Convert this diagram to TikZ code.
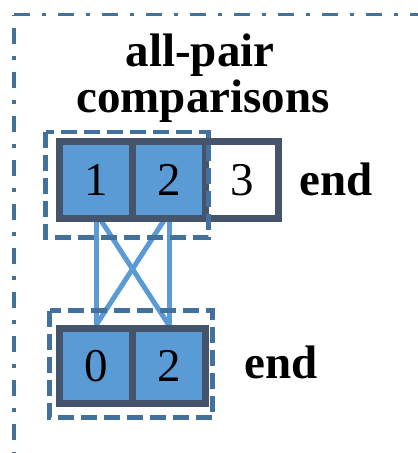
\documentclass[tikz,border=0pt]{standalone}
\usepackage{fontspec}
\setmainfont{Liberation Serif}
\usetikzlibrary{calc}
\pgfdeclarelayer{background}
\pgfsetlayers{background,main}
\definecolor{cellfill}{HTML}{5B9BD5}
\definecolor{cellline}{HTML}{44546A}
\definecolor{groupline}{HTML}{41719C}
\definecolor{linkline}{HTML}{5B9BD5}
\tikzset{
  cell/.style={draw=cellline, line width=6.5pt, fill=cellfill,
    minimum width=73pt, minimum height=77pt, inner sep=0pt,
    font=\fontsize{47}{47}\selectfont},
  emptycell/.style={cell, fill=white},
  group/.style={draw=groupline, line width=4.5pt, dash pattern=on 16pt off 7pt},
  frame/.style={draw=groupline, line width=3.5pt,
    dash pattern=on 16pt off 12pt on 4pt off 12pt},
  link/.style={draw=linkline, line width=5pt},
  label/.style={font=\bfseries\fontsize{47}{47}\selectfont, anchor=base, inner sep=0pt},
}
\begin{document}
\begin{tikzpicture}[x=1pt,y=-1pt]
\useasboundingbox (0,0) rectangle (418,453);
\clip (0,0) rectangle (418,453);

% outer dash-dot frame (runs past the right and bottom edges)
\draw[frame, dash phase=31pt] (14,14.5) -- (14,470);
\draw[frame] (14,14.5) -- (440,14.5);

% title
\node[label] (title1) at (200,66) {all-pair};
\node[label] (title2) at (203,112) {comparisons};

% first row of cells
\node[cell] (a1) at (96,180) {1};
\node[cell] (a2) at (169,180) {2};
\node[emptycell] (a3) at (242,180) {3};
\node[label] (endA) at (336,195) {end};

% second row of cells
\node[cell, minimum height=75pt] (b0) at (96,366) {0};
\node[cell, minimum height=75pt] (b2) at (169,366) {2};
\node[label] (endB) at (281,378) {end};

% pairwise links, behind the cells
\begin{pgfonlayer}{background}
  \draw[link] (a1.center) -- (b0.center);
  \draw[link] (a2.center) -- (b2.center);
  \draw[link] ([yshift=9pt]a1.south) -- (b2.north);
  \draw[link] ([yshift=9pt]a2.south) -- (b0.north);
\end{pgfonlayer}

% dashed group outlines
\draw[group] (45.5,132) rectangle (208.5,237.5);
\draw[group] (49.5,310.5) rectangle (212.5,417.5);
\end{tikzpicture}
\end{document}
